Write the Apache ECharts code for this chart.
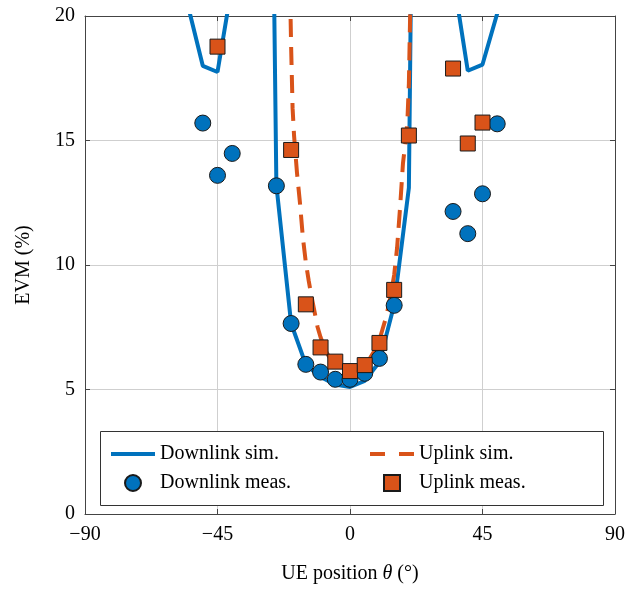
<!DOCTYPE html>
<html>
<head>
<meta charset="utf-8">
<script src="https://cdn.jsdelivr.net/npm/echarts@6/dist/echarts.min.js"></script>
<style>
html,body{margin:0;padding:0;background:#fff;}
#chart{width:630px;height:589px;}
</style>
</head>
<body>
<div id="chart"></div>
<script>
// Downlink simulation (values above 20 are outside the visible range)
const dlSimX = [-60,-55,-50,-45,-40,-35,-30,-25,-20,-15,-10,-5,0,5,10,15,20,25,30,35,40,45,50,55];
const dlSimY = [32,20.4,18.0,17.75,21.3,40,62,13.2,7.65,6.0,5.5,5.2,5.1,5.35,6.1,8.4,13.1,70,45,21.6,17.8,18.05,20.1,30];

// Uplink simulation
const ulSimX = [-21,-20.5,-20,-19.5,-19,-18,-17,-16,-15,-14,-13,-12,-11,-10,-8,-6,-4,-2,0,2,4,6,8,10,11,12,13,14,15,16,17,18,19,19.5,20,20.5,21];
const ulSimY = [30,22,18.8,16.3,15.2,13.7,12.5,11.1,10.1,9.35,8.7,8.1,7.5,7.1,6.5,6.1,5.8,5.65,5.6,5.65,5.8,6.1,6.5,7.0,7.4,7.8,8.3,8.9,9.6,10.7,12.3,14.1,15.1,15.8,17.3,20.5,30];

// Downlink measurements
const dlMeasX = [-50,-45,-40,-25,-20,-15,-10,-5,0,5,10,15,35,40,45,50];
const dlMeasY = [15.7,13.6,14.48,13.18,7.65,6.01,5.7,5.41,5.41,5.65,6.25,8.38,12.15,11.26,12.86,15.67];

// Uplink measurements
const ulMeasX = [-45,-20,-15,-10,-5,0,5,10,15,20,35,40,45];
const ulMeasY = [18.77,14.62,8.42,6.69,6.12,5.74,5.98,6.87,9.0,15.2,17.89,14.88,15.72];

const xTicks = [-90,-45,0,45,90];
const yTicks = [0,5,10,15,20];

const pairs = (xs, ys) => xs.map((x, i) => [x, ys[i]]);

const FONT = 'Liberation Serif';
const BLUE = '#0072BD';
const ORANGE = '#D95319';
const AXIS = '#444';

const chart = echarts.init(document.getElementById('chart'), null, {renderer: 'canvas'});

const baseX = {
  type: 'value', min: xTicks[0], max: xTicks[xTicks.length-1], interval: 45,
  axisLine: {show: true, onZero: false, lineStyle: {color: AXIS}},
  axisTick: {show: true, inside: true, length: 5, lineStyle: {color: AXIS}}
};
const baseY = {
  type: 'value', min: yTicks[0], max: yTicks[yTicks.length-1], interval: 5,
  axisLine: {show: true, onZero: false, lineStyle: {color: AXIS}},
  axisTick: {show: true, inside: true, length: 5, lineStyle: {color: AXIS}}
};

const option = {
  animation: false,
  backgroundColor: '#fff',
  grid: {left: 85, right: 15, top: 16, bottom: 74, show: false},
  xAxis: [Object.assign({}, baseX, {
    position: 'bottom',
    splitLine: {show: true, lineStyle: {color: '#cfcfcf', width: 1}},
    axisLabel: {fontFamily: FONT, fontSize: 20, color: '#000', margin: 11,
      formatter: v => String(v).replace('-', '\u2212')},
    name: 'UE position {i|θ} (°)', nameLocation: 'middle', nameGap: 50,
    nameTextStyle: {fontFamily: FONT, fontSize: 20, color: '#000',
      rich: {i: {fontFamily: FONT, fontSize: 20, fontStyle: 'italic', color: '#000'}}}
  }), Object.assign({}, baseX, {
    position: 'top', splitLine: {show: false}, axisLabel: {show: false}
  })],
  yAxis: [Object.assign({}, baseY, {
    position: 'left',
    splitLine: {show: true, lineStyle: {color: '#cfcfcf', width: 1}},
    axisLabel: {fontFamily: FONT, fontSize: 20, color: '#000', margin: 10},
    name: 'EVM (%)', nameLocation: 'middle', nameGap: 51,
    nameTextStyle: {fontFamily: FONT, fontSize: 20, color: '#000'}
  }), Object.assign({}, baseY, {
    position: 'right', splitLine: {show: false}, axisLabel: {show: false}
  })],
  graphic: [{
    type: 'rect', z: 5, left: 100, top: 431,
    shape: {width: 503, height: 74},
    style: {fill: '#fff', stroke: '#333', lineWidth: 1}
  }],
  legend: [{
    z: 6, orient: 'vertical', left: 111, top: 444, itemGap: 9, padding: 0,
    itemWidth: 44, itemHeight: 16,
    textStyle: {fontFamily: FONT, fontSize: 20, color: '#000'},
    data: [
      {name: 'Downlink sim.', icon: 'path://M0,0 L44,0 L44,4 L0,4 Z'},
      {name: 'Downlink meas.', icon: 'circle'}
    ]
  }, {
    z: 6, orient: 'vertical', left: 370, top: 444, itemGap: 9, padding: 0,
    itemWidth: 44, itemHeight: 16,
    textStyle: {fontFamily: FONT, fontSize: 20, color: '#000'},
    data: [
      {name: 'Uplink sim.', icon: 'path://M0,0 L15,0 L15,4 L0,4 Z M29,0 L44,0 L44,4 L29,4 Z'},
      {name: 'Uplink meas.', icon: 'path://M0,0 L10,0 L10,10 L0,10 Z'}
    ]
  }],
  series: [{
    name: 'Downlink sim.', type: 'line', data: pairs(dlSimX, dlSimY),
    symbol: 'none', clip: true, z: 2,
    lineStyle: {color: BLUE, width: 4}, itemStyle: {color: BLUE}
  }, {
    name: 'Uplink sim.', type: 'line', data: pairs(ulSimX, ulSimY),
    symbol: 'none', clip: true, z: 3,
    lineStyle: {color: ORANGE, width: 4, type: [18, 10]}, itemStyle: {color: ORANGE}
  }, {
    name: 'Downlink meas.', type: 'scatter', data: pairs(dlMeasX, dlMeasY),
    symbol: 'circle', symbolSize: 16, z: 4,
    itemStyle: {color: BLUE, borderColor: '#1a1a1a', borderWidth: 1, opacity: 1}
  }, {
    name: 'Uplink meas.', type: 'scatter', data: pairs(ulMeasX, ulMeasY),
    symbol: 'rect', symbolSize: 15, z: 4,
    itemStyle: {color: ORANGE, borderColor: '#1a1a1a', borderWidth: 1, opacity: 1}
  }]
};
chart.setOption(option);
</script>
</body>
</html>
